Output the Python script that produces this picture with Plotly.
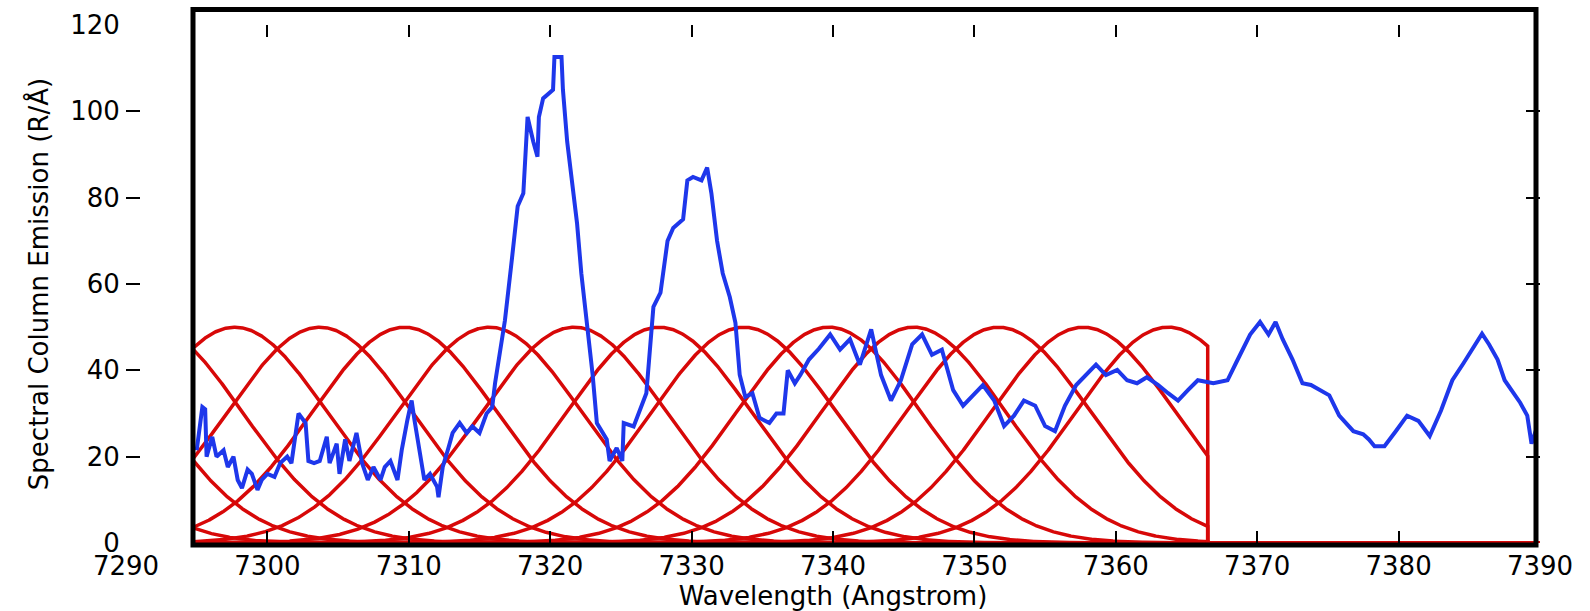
import numpy as np
import plotly.graph_objects as go

# Measured spectral column emission (blue)
wavelength = [
    7295.0, 7295.4, 7295.6, 7295.7, 7296.1, 7296.4, 7296.9, 7297.2, 7297.6, 7297.9,
    7298.2, 7298.6, 7298.9, 7299.3, 7299.6, 7300.0, 7300.5, 7300.9, 7301.4, 7301.7,
    7302.2, 7302.7, 7302.9, 7303.3, 7303.7, 7304.2, 7304.4, 7304.9, 7305.1, 7305.5,
    7305.8, 7306.3, 7306.7, 7307.1, 7307.5, 7308.0, 7308.3, 7308.7, 7309.2, 7309.5,
    7309.9, 7310.2, 7310.4, 7310.8, 7311.1, 7311.5, 7312.0, 7312.1, 7312.4, 7312.8,
    7313.1, 7313.6, 7314.1, 7314.5, 7315.0, 7315.5, 7315.9, 7316.1, 7316.5, 7316.8,
    7317.3, 7317.7, 7318.1, 7318.4, 7318.8, 7319.1, 7319.2, 7319.5, 7320.2, 7320.3,
    7320.8, 7320.9, 7321.2, 7321.5, 7321.9, 7322.2, 7322.6, 7323.0, 7323.3, 7324.0,
    7324.2, 7324.7, 7325.1, 7325.2, 7325.9, 7326.8, 7327.3, 7327.8, 7328.3, 7328.7,
    7329.4, 7329.7, 7330.1, 7330.7, 7331.1, 7331.4, 7331.8, 7332.2, 7332.7, 7333.1,
    7333.4, 7333.8, 7334.3, 7334.8, 7335.5, 7336.0, 7336.5, 7336.8, 7337.3, 7337.7,
    7338.3, 7339.0, 7339.8, 7340.5, 7341.2, 7341.9, 7342.7, 7343.4, 7344.1, 7344.8,
    7345.6, 7346.3, 7347.0, 7347.7, 7348.5, 7349.2, 7349.9, 7350.6, 7351.4, 7352.1,
    7352.8, 7353.5, 7354.3, 7355.0, 7355.7, 7356.4, 7357.2, 7357.9, 7358.6, 7359.3,
    7360.1, 7360.8, 7361.5, 7362.2, 7363.0, 7363.7, 7364.4, 7365.1, 7365.8, 7366.9,
    7367.9, 7368.5, 7369.5, 7370.2, 7370.8, 7371.3, 7371.8, 7372.5, 7373.2, 7373.8,
    7374.5, 7375.1, 7375.8, 7376.8, 7377.5, 7377.9, 7378.3, 7379.0, 7379.8, 7380.6,
    7381.4, 7382.2, 7383.0, 7383.8, 7384.6, 7385.4, 7385.9, 7386.4, 7387.0, 7387.5,
    7388.0, 7388.6, 7389.1, 7389.4, 7389.7,
]
emission = [
    21.5, 31.5, 31.0, 20.0, 24.6, 20.0, 21.5, 17.6, 20.0, 14.6,
    12.7, 17.0, 16.0, 12.3, 14.6, 16.0, 15.3, 18.5, 20.0, 18.5,
    30.0, 27.8, 19.0, 18.5, 19.0, 24.6, 18.5, 23.0, 16.0, 24.0,
    19.0, 25.5, 18.5, 14.6, 17.6, 14.6, 17.6, 19.0, 14.6, 21.5,
    28.5, 33.0, 28.5, 20.0, 14.6, 16.0, 13.0, 10.6, 17.6, 22.0,
    25.5, 27.8, 25.5, 27.0, 25.5, 30.0, 31.5, 37.0, 44.7, 51.6,
    66.0, 78.0, 81.0, 98.7, 93.0, 89.5, 98.7, 103.0, 105.0, 112.6,
    112.6, 105.0, 93.0, 84.0, 74.0, 62.5, 51.0, 39.0, 27.8, 24.0,
    19.0, 22.0, 19.0, 27.8, 27.0, 34.7, 54.7, 58.0, 70.0, 73.0,
    75.0, 84.0, 84.8, 84.0, 87.0, 81.0, 70.0, 62.5, 57.0, 51.0,
    39.0, 33.8, 34.7, 29.0, 27.8, 30.0, 30.0, 40.0, 37.0, 39.0,
    42.5, 45.0, 48.3, 44.8, 47.2, 41.3, 49.5, 38.9, 33.0, 37.7,
    46.0, 48.3, 43.6, 44.8, 35.4, 31.8, 34.2, 36.6, 33.0, 27.1,
    29.5, 33.0, 31.8, 27.1, 25.9, 31.8, 36.6, 38.9, 41.3, 38.9,
    40.1, 37.7, 37.0, 38.4, 36.6, 34.7, 33.0, 35.4, 37.7, 37.0,
    37.7, 41.7, 48.3, 51.2, 48.3, 51.2, 47.2, 42.5, 37.0, 36.6,
    35.4, 34.2, 29.5, 25.9, 25.2, 24.0, 22.4, 22.4, 25.9, 29.5,
    28.3, 24.8, 30.7, 37.7, 41.7, 46.0, 48.5, 46.0, 42.5, 37.7,
    35.4, 32.5, 29.5, 23.0, 26.0,
]

# Gaussian filter passbands (red): centres, peak height and width
filter_centres = [7279.7, 7285.7, 7291.7, 7297.7, 7303.7, 7309.7, 7315.7, 7321.7,
                  7327.7, 7333.7, 7339.7, 7345.7, 7351.7, 7357.7, 7363.7]
filter_peak = 50.0
filter_sigma = 6.53
filter_start = 7294.8
filter_stop = 7366.5

x_ticks = [7290, 7300, 7310, 7320, 7330, 7340, 7350, 7360, 7370, 7380, 7390]
y_ticks = [0, 20, 40, 60, 80, 100, 120]

BLUE = "rgb(30,55,235)"
RED = "rgb(215,8,8)"
FONT = "DejaVu Sans"

fig = go.Figure()

grid = np.round(np.arange(filter_start, filter_stop + 1e-9, 0.05), 3)
for c in filter_centres:
    prof = filter_peak * np.exp(-((grid - c) ** 2) / (2 * filter_sigma ** 2))
    xs = np.concatenate([grid, [filter_stop, 7390.0]])
    ys = np.concatenate([prof, [0.0, 0.0]])
    fig.add_trace(go.Scatter(x=xs, y=ys, mode="lines",
                             line=dict(color=RED, width=3.5),
                             hoverinfo="skip", showlegend=False))

fig.add_trace(go.Scatter(x=wavelength, y=emission, mode="lines",
                         line=dict(color=BLUE, width=4),
                         showlegend=False))

# Heavy frame around the data region
L, R, T, B = 126, 50, 25, 68
W, H = 1590, 611
pw = W - L - R
ph = H - T - B
fig.add_shape(type="rect", xref="paper", yref="paper",
              x0=(193 - L) / pw, x1=(1536 - L) / pw,
              y0=(543 - 545) / ph, y1=(543 - 9.5) / ph,
              line=dict(color="black", width=5), layer="above")

fig.update_layout(
    width=W, height=H,
    margin=dict(l=L, r=R, t=T, b=B, autoexpand=False),
    paper_bgcolor="white", plot_bgcolor="white",
    font=dict(family=FONT, size=26, color="black"),
    xaxis=dict(range=[7290, 7390], tickvals=x_ticks,
               ticktext=[str(v) for v in x_ticks],
               ticks="inside", ticklen=12, tickwidth=1.5, tickcolor="black",
               showline=True, linecolor="rgba(0,0,0,0)", mirror="ticks",
               showgrid=False, zeroline=False,
               tickfont=dict(family=FONT, size=26),
               title=dict(text="Wavelength (Angstrom)",
                          font=dict(family=FONT, size=26), standoff=4)),
    yaxis=dict(range=[0, 120], tickvals=y_ticks,
               ticktext=[str(v) for v in y_ticks],
               ticks="inside", ticklen=14, tickwidth=1.5, tickcolor="black",
               showline=True, linecolor="rgba(0,0,0,0)", mirror="ticks",
               showgrid=False, zeroline=False,
               tickfont=dict(family=FONT, size=26),
               title=dict(text="Spectral Column Emission (R/Å)",
                          font=dict(family=FONT, size=26), standoff=14)),
)

fig.write_html("out.html")
